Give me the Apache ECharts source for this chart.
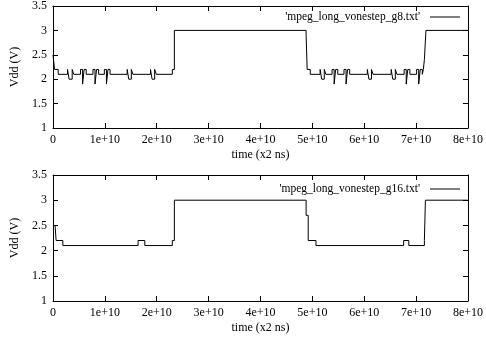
<!DOCTYPE html>
<html>
<head>
<meta charset="utf-8">
<script src="https://cdn.jsdelivr.net/npm/echarts@6/dist/echarts.min.js"></script>
<style>html,body{margin:0;padding:0;background:#fff;}#c{width:486px;height:339px;}</style>
</head>
<body>
<div id="c"></div>
<script>
// time in units of 1e10 (x2 ns)
const seriesNames = ["'mpeg_long_vonestep_g8.txt'", "'mpeg_long_vonestep_g16.txt'"];
const timeG8 = [0, 0.03, 0.10,
  0.28, 0.31, 0.37, 0.40,
  0.53, 0.57, 0.60, 0.64,
  0.77, 0.81, 0.84, 0.88,
  0.99, 1.03, 1.06, 1.10,
  1.43, 1.46, 1.51, 1.54,
  1.88, 1.91, 1.96, 1.99,
  2.30, 2.34, 4.88, 4.90, 4.96,
  5.15, 5.18, 5.23, 5.26,
  5.38, 5.42, 5.45, 5.49,
  5.61, 5.65, 5.68, 5.72,
  6.06, 6.09, 6.14, 6.17,
  6.52, 6.55, 6.60, 6.63,
  6.77, 6.81, 6.84, 6.88,
  7.01, 7.05, 7.08, 7.12,
  7.14, 7.16, 7.19, 8.0];
const vddG8 = [2.5, 2.2, 2.1,
  2.2, 2.0, 2.2, 2.1,
  2.2, 1.9, 2.2, 2.1,
  2.2, 1.9, 2.2, 2.1,
  2.2, 1.9, 2.2, 2.1,
  2.2, 2.0, 2.2, 2.1,
  2.2, 2.0, 2.2, 2.1,
  2.2, 3.0, 2.9, 2.2, 2.1,
  2.2, 2.0, 2.2, 2.1,
  2.2, 1.9, 2.2, 2.1,
  2.2, 1.9, 2.2, 2.1,
  2.2, 2.0, 2.2, 2.1,
  2.2, 2.0, 2.2, 2.1,
  2.2, 1.9, 2.2, 2.1,
  2.2, 1.9, 2.2, 2.1,
  2.2, 2.4, 3.0, 3.0];
const timeG16 = [0.04, 0.06, 0.19, 1.64, 1.77, 2.30, 2.34, 4.88, 4.92, 5.07, 6.76, 6.86, 7.16, 7.18, 8.0];
const vddG16  = [2.5, 2.2, 2.1, 2.2, 2.1, 2.2, 3.0, 2.7, 2.2, 2.1, 2.2, 2.1, 2.2, 3.0, 3.0];
const xTickLabels = ['0', '1e+10', '2e+10', '3e+10', '4e+10', '5e+10', '6e+10', '7e+10', '8e+10'];
const yTickLabels = ['1', '1.5', '2', '2.5', '3', '3.5'];
const xName = 'time (x2 ns)';
const yName = 'Vdd (V)';

const font = 'Liberation Serif';
const txt = {color: '#000', fontFamily: font, fontSize: 12};
function xAx(grid, pos, labels) {
  return {
    type: 'value', gridIndex: grid, position: pos, min: 0, max: 8, interval: 1,
    name: labels ? xName : '', nameLocation: 'middle', nameGap: 21, nameTextStyle: txt,
    axisLine: {show: true, onZero: false, lineStyle: {color: '#000', width: 1}},
    axisTick: {show: true, inside: true, length: 5, lineStyle: {color: '#000'}},
    axisLabel: {show: labels, margin: 6, formatter: (v) => xTickLabels[Math.round(v)], ...txt},
    splitLine: {show: false}
  };
}
function yAx(grid, pos, labels) {
  return {
    type: 'value', gridIndex: grid, position: pos, min: 1, max: 3.5, interval: 0.5,
    name: labels ? yName : '', nameLocation: 'middle', nameGap: 32, nameRotate: 90, nameTextStyle: txt,
    axisLine: {show: true, onZero: false, lineStyle: {color: '#000', width: 1}},
    axisTick: {show: true, inside: true, length: 5, lineStyle: {color: '#000'}},
    axisLabel: {show: labels, margin: 6, formatter: (v) => yTickLabels[Math.round((v - 1) / 0.5)], ...txt},
    splitLine: {show: false}
  };
}
const legTxt = {...txt, fontSize: 11.5, padding: [0, 5, 0, 0]};
const chart = echarts.init(document.getElementById('c'), null, {renderer: 'canvas'});
chart.setOption({
  animation: false,
  backgroundColor: '#fff',
  grid: [
    {left: 53, top: 4, width: 420, height: 124},
    {left: 53, top: 175, width: 420, height: 126}
  ],
  xAxis: [xAx(0, 'bottom', true), xAx(0, 'top', false), xAx(1, 'bottom', true), xAx(1, 'top', false)],
  yAxis: [yAx(0, 'left', true), yAx(0, 'right', false), yAx(1, 'left', true), yAx(1, 'right', false)],
  legend: [
    {data: [{name: seriesNames[0], icon: 'rect'}], right: 21, top: 6, align: 'right', itemWidth: 30, itemHeight: 1,
     textStyle: legTxt},
    {data: [{name: seriesNames[1], icon: 'rect'}], right: 21, top: 178, align: 'right', itemWidth: 30, itemHeight: 1,
     textStyle: legTxt}
  ],
  series: [
    {name: seriesNames[0], type: 'line', step: 'end', xAxisIndex: 0, yAxisIndex: 0,
     symbol: 'none', lineStyle: {color: '#000', width: 1}, itemStyle: {color: '#000'},
     data: timeG8.map((t, i) => [t, vddG8[i]])},
    {name: seriesNames[1], type: 'line', step: 'end', xAxisIndex: 2, yAxisIndex: 2,
     symbol: 'none', lineStyle: {color: '#000', width: 1}, itemStyle: {color: '#000'},
     data: timeG16.map((t, i) => [t, vddG16[i]])}
  ]
});
</script>
</body>
</html>
